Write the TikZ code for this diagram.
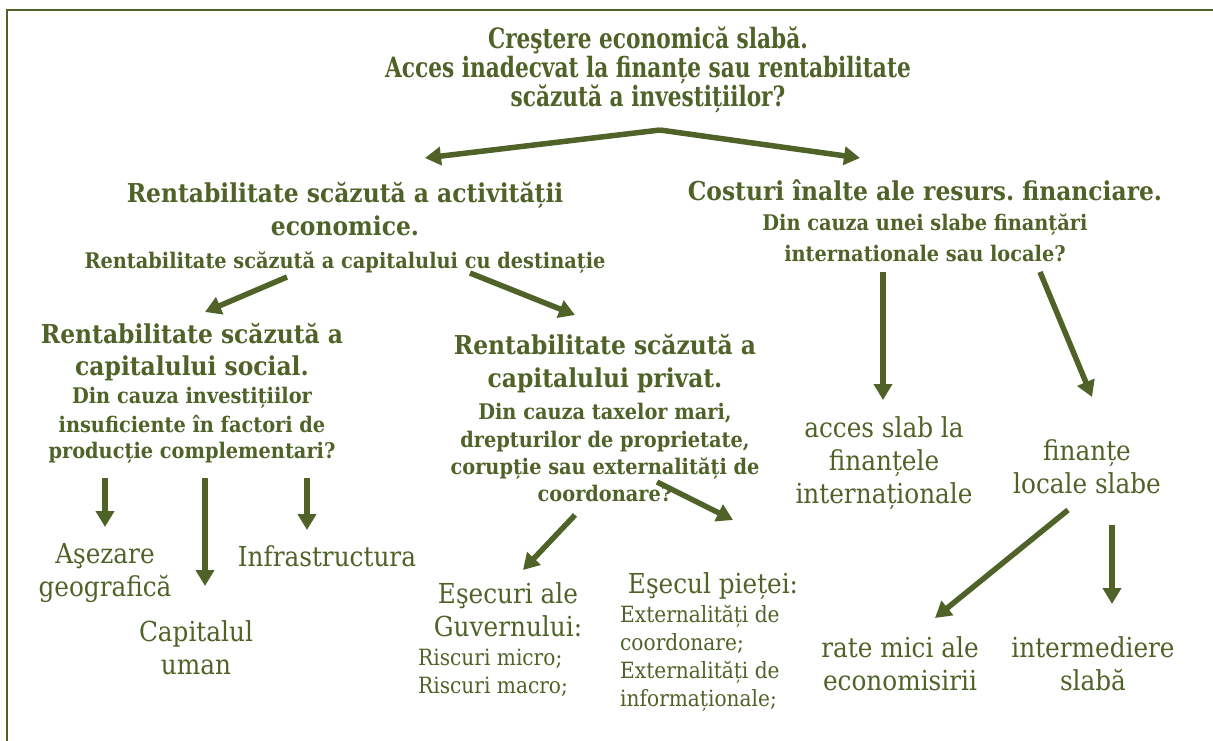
\documentclass[tikz,border=0pt]{standalone}
\usepackage{fontspec}
\setmainfont{DejaVu Serif Condensed}
\newfontfamily\titlefont[FakeStretch=0.86]{DejaVu Serif Condensed}
\usetikzlibrary{arrows.meta}
\frenchspacing

\definecolor{oliveDark}{HTML}{4F6228}

\tikzset{
  txt/.style={text=oliveDark, inner sep=0pt, anchor=north, align=center},
  titletxt/.style={txt, font=\titlefont\bfseries\fontsize{28}{29}\selectfont},
  bigbold/.style={txt, font=\bfseries\fontsize{26}{33}\selectfont},
  plain/.style={txt, font=\fontsize{27.5}{33}\selectfont},
  small/.style={txt, font=\fontsize{22.4}{28}\selectfont, align=left, anchor=north west}
}
\newcommand{\sub}{\fontsize{21.5}{28}\selectfont}
\tikzset{arr/.style={draw=oliveDark, line width=5.5pt, -{Triangle[length=16pt,width=18pt]}}}

\begin{document}
\begin{tikzpicture}[x=1pt,y=-1pt]
  \useasboundingbox (0,0) rectangle (1213,741);
  % frame
  \draw[oliveDark, line width=2pt] (7,741) -- (7,10) -- (1213,10);

  % top question
  \node[titletxt] (title) at (648,27) {Creştere economică slabă.\\
    Acces inadecvat la finanțe sau rentabilitate\\scăzută a investițiilor?};

  % second level
  \node[bigbold] (act) at (345,182) {Rentabilitate scăzută a activității\\economice.\\
    \sub Rentabilitate scăzută a capitalului cu destinație};
  \node[bigbold] (cost) at (925,180) {Costuri înalte ale resurs. financiare.\\[-3pt]
    \sub Din cauza unei slabe finanțări\\[-2pt]\sub internationale sau locale?};

  % third level
  \node[bigbold, font=\bfseries\fontsize{26}{32}\selectfont] (soc) at (192,323) {Rentabilitate scăzută a\\capitalului social.\\[-4pt]
    \sub Din cauza investițiilor\\[-3pt]\sub insuficiente în factori de\\[-6pt]\sub producție complementari?};
  \node[bigbold] (priv) at (605,334) {Rentabilitate scăzută a\\capitalului privat.\\[-1pt]
    \sub Din cauza taxelor mari,\\[-5pt]\sub drepturilor de proprietate,\\[-6pt]\sub corupție sau externalități de\\[-6pt]\sub coordonare?};
  \node[plain] (intl) at (884,416) {acces slab la\\finanțele\\internaționale};
  \node[plain] (loc) at (1087,439) {finanțe\\locale slabe};

  % fourth level
  \node[plain] (geo) at (105,543) {Aşezare\\geografică};
  \node[plain] (uman) at (196,620) {Capitalul\\uman};
  \node[plain] (infra) at (327,545) {Infrastructura};
  \node[plain] (gov) at (508,582) {Eşecuri ale\\Guvernului:};
  \node[small] (govlist) at (418,649) {Riscuri micro;\\Riscuri macro;};
  \node[plain] (mkt) at (713,572) {Eşecul pieței:};
  \node[small] (mktlist) at (620,605) {Externalități de\\coordonare;\\Externalități de\\informaționale;};
  \node[plain] (sav) at (900,636) {rate mici ale\\economisirii};
  \node[plain] (interm) at (1093,636) {intermediere\\slabă};

  % arrows
  \draw[arr] ([shift={(12,103)}]title.north) -- ([shift={(80,-24)}]act.north);
  \draw[arr] ([shift={(12,103)}]title.north) -- ([shift={(-65,-22)}]cost.north);
  \draw[arr] ([shift={(-58,95)}]act.north) -- ([shift={(13,-11)}]soc.north);
  \draw[arr] ([shift={(125,91)}]act.north) -- ([shift={(-30,-19)}]priv.north);
  \draw[arr] ([shift={(-42,92)}]cost.north) -- ([shift={(-1,-16)}]intl.north);
  \draw[arr] ([shift={(115,92)}]cost.north) -- ([shift={(5,-42)}]loc.north);
  \draw[arr] ([shift={(-87,155)}]soc.north) -- ([shift={(0,-16)}]geo.north);
  \draw[arr] ([shift={(13,155)}]soc.north) -- ([shift={(9,-34)}]uman.north);
  \draw[arr] ([shift={(115,155)}]soc.north) -- ([shift={(-20,-15)}]infra.north);
  \draw[arr] ([shift={(-30,181)}]priv.north) -- ([shift={(15,-12)}]gov.north);
  \draw[arr] ([shift={(52,148)}]priv.north) -- ([shift={(20,-52)}]mkt.north);
  \draw[arr] ([shift={(-19,71)}]loc.north) -- ([shift={(35,-18)}]sav.north);
  \draw[arr] ([shift={(25,86)}]loc.north) -- ([shift={(19,-32)}]interm.north);
\end{tikzpicture}
\end{document}
